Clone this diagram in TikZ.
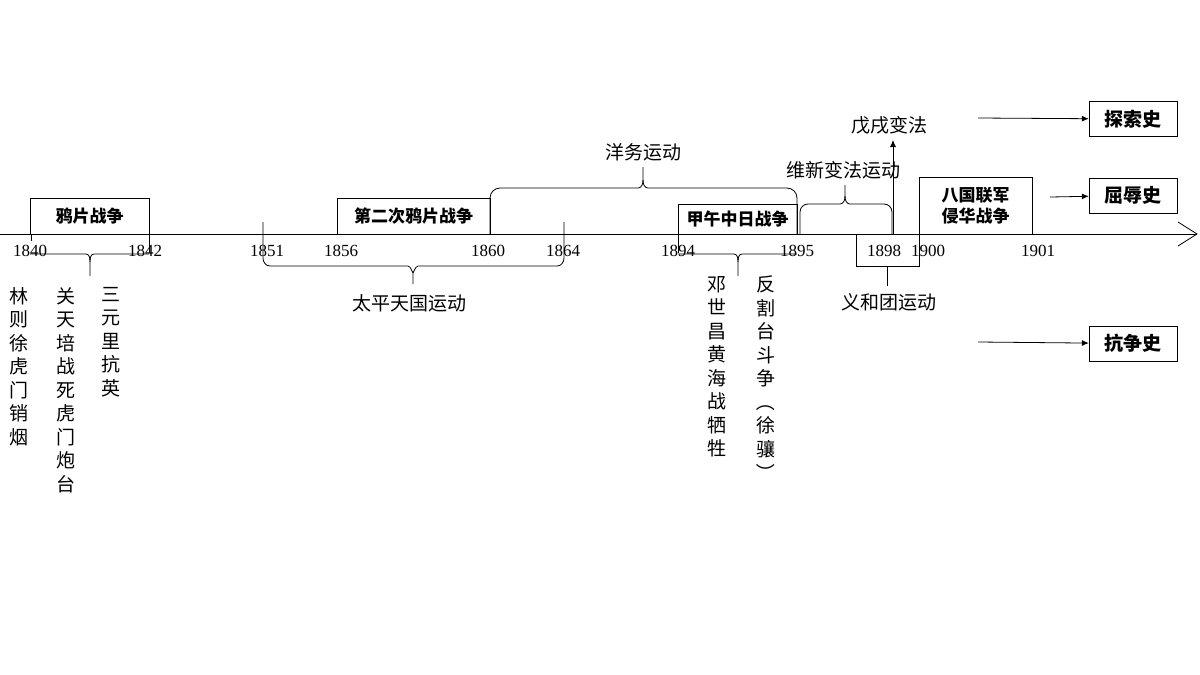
\documentclass[tikz,border=0pt]{standalone}
\usepackage{fontspec}
\setmainfont{Liberation Serif}
\newfontfamily\cjk{Noto Sans CJK SC}
\usetikzlibrary{arrows.meta}
\tikzset{
  yr/.style={font=\fontsize{17}{17}\selectfont, inner sep=0pt},
  lbl/.style={font=\cjk\fontsize{19}{19}\selectfont, inner sep=0pt},
  col/.style={font=\cjk\fontsize{19}{23.5}\selectfont, inner sep=0pt, align=center, anchor=north},
  evt/.style={draw, font=\cjk\bfseries\fontsize{17}{21}\selectfont, inner sep=0pt, align=center},
  hist/.style={draw, font=\cjk\bfseries\fontsize{19}{19}\selectfont, minimum width=88pt, minimum height=35pt, inner sep=0pt},
  ln/.style={line width=0.8pt},
  arr/.style={ln, -{Latex[length=7pt,width=6pt]}}
}
\newcommand\rp[1]{\rotatebox[origin=c]{-90}{#1}}
\begin{document}
\begin{tikzpicture}[x=1pt,y=-1pt]
  \useasboundingbox (0,0) rectangle (1200,675);
  % axis
  \coordinate (a0) at (0,234);
  \coordinate (a1) at (1197,234);
  \draw[ln] (a0) -- (a1);
  \draw[ln] (1178,222) -- (a1) -- (1178,246);

  % event boxes
  \node[evt, minimum width=119pt, minimum height=36pt] (yapian) at (89.5,216) {鸦片战争};
  \node[evt, minimum width=153pt, minimum height=36pt] (dierci) at (413.5,216) {第二次鸦片战争};
  \node[evt, minimum width=119pt, minimum height=30pt] (jiawu) at (737.5,219) {甲午中日战争};
  \node[evt, minimum width=113pt, minimum height=57pt] (baguo) at (975.5,205.5) {八国联军\\侵华战争};

  % years
  \foreach \x/\y in {30/1840,145/1842,267/1851,341/1856,488/1860,563/1864,678/1894,797/1895,884/1898,928/1900,1038/1901}
    \node[yr] (y\y) at (\x,251) {\y};
  \draw[ln] (31,234) -- (31,241);
  \draw[ln] (149,234) -- (149,253);
  \draw[ln] (678,234) -- (678,253);

  % braces
  \draw[ln] (30,254) -- (86,254) to[out=0,in=90] (90,262) -- (90,276);
  \draw[ln] (149,254) -- (94,254) to[out=180,in=90] (90,262);
  \draw[ln] (678,254) -- (734,254) to[out=0,in=90] (738,262) -- (738,276);
  \draw[ln] (797,254) -- (742,254) to[out=180,in=90] (738,262);
  \draw[ln] (263,222) -- (263,258) to[out=-90,in=180] (270,266) -- (408,266) to[out=0,in=-90] (413,272) -- (413,284);
  \draw[ln] (564,222) -- (564,258) to[out=-90,in=0] (557,266) -- (418,266) to[out=180,in=-90] (413,272);
  \draw[ln] (490,234) -- (490,198) to[out=90,in=180] (500,188) -- (638,188) to[out=0,in=-90] (643,180) -- (643,167);
  \draw[ln] (797,234) -- (797,198) to[out=90,in=0] (787,188) -- (648,188) to[out=180,in=-90] (643,180);
  \draw[ln] (800,234) -- (800,212) to[out=90,in=180] (808,204) -- (840,204) to[out=0,in=-90] (845,196) -- (845,185);
  \draw[ln] (892,234) -- (892,212) to[out=90,in=0] (884,204) -- (850,204) to[out=180,in=-90] (845,196);
  \draw[ln] (856,234) -- (856,266) -- (919,266) -- (919,234);
  \draw[ln] (887,266) -- (887,286);

  % brace labels
  \node[lbl] (yangwu) at (643,152) {洋务运动};
  \node[lbl] (weixin) at (843,170) {维新变法运动};
  \node[lbl] (wuxu) at (889,125) {戊戌变法};
  \node[lbl] (taiping) at (409,303) {太平天国运动};
  \node[lbl] (yihe) at (889,302) {义和团运动};
  \coordinate (w0) at (893,234);
  \coordinate (w1) at (893,140);
  \draw[arr] (w0) -- (w1);

  % vertical columns
  \node[col] (linzexu) at (19,287) {林\\则\\徐\\虎\\门\\销\\烟};
  \node[col] (guan) at (66,287) {关\\天\\培\\战\\死\\虎\\门\\炮\\台};
  \node[col] (sanyuan) at (111,287) {三\\元\\里\\抗\\英};
  \node[col] (deng) at (717,276) {邓\\世\\昌\\黄\\海\\战\\牺\\牲};
  \node[col] (fange) at (766,276) {反\\割\\台\\斗\\争\\\rp{（}\\徐\\骧\\\rp{）}};

  % history boxes
  \node[hist] (tansuo) at (1133,119) {探索史};
  \node[hist] (quru) at (1133,195.5) {屈辱史};
  \node[hist] (kangzheng) at (1133,343.5) {抗争史};
  \coordinate (t0) at (978,118);
  \coordinate (q0) at (1050,197);
  \coordinate (k0) at (978,342);
  \draw[arr] (t0) -- (tansuo);
  \draw[arr] (q0) -- (quru);
  \draw[arr] (k0) -- (kangzheng);
\end{tikzpicture}
\end{document}
